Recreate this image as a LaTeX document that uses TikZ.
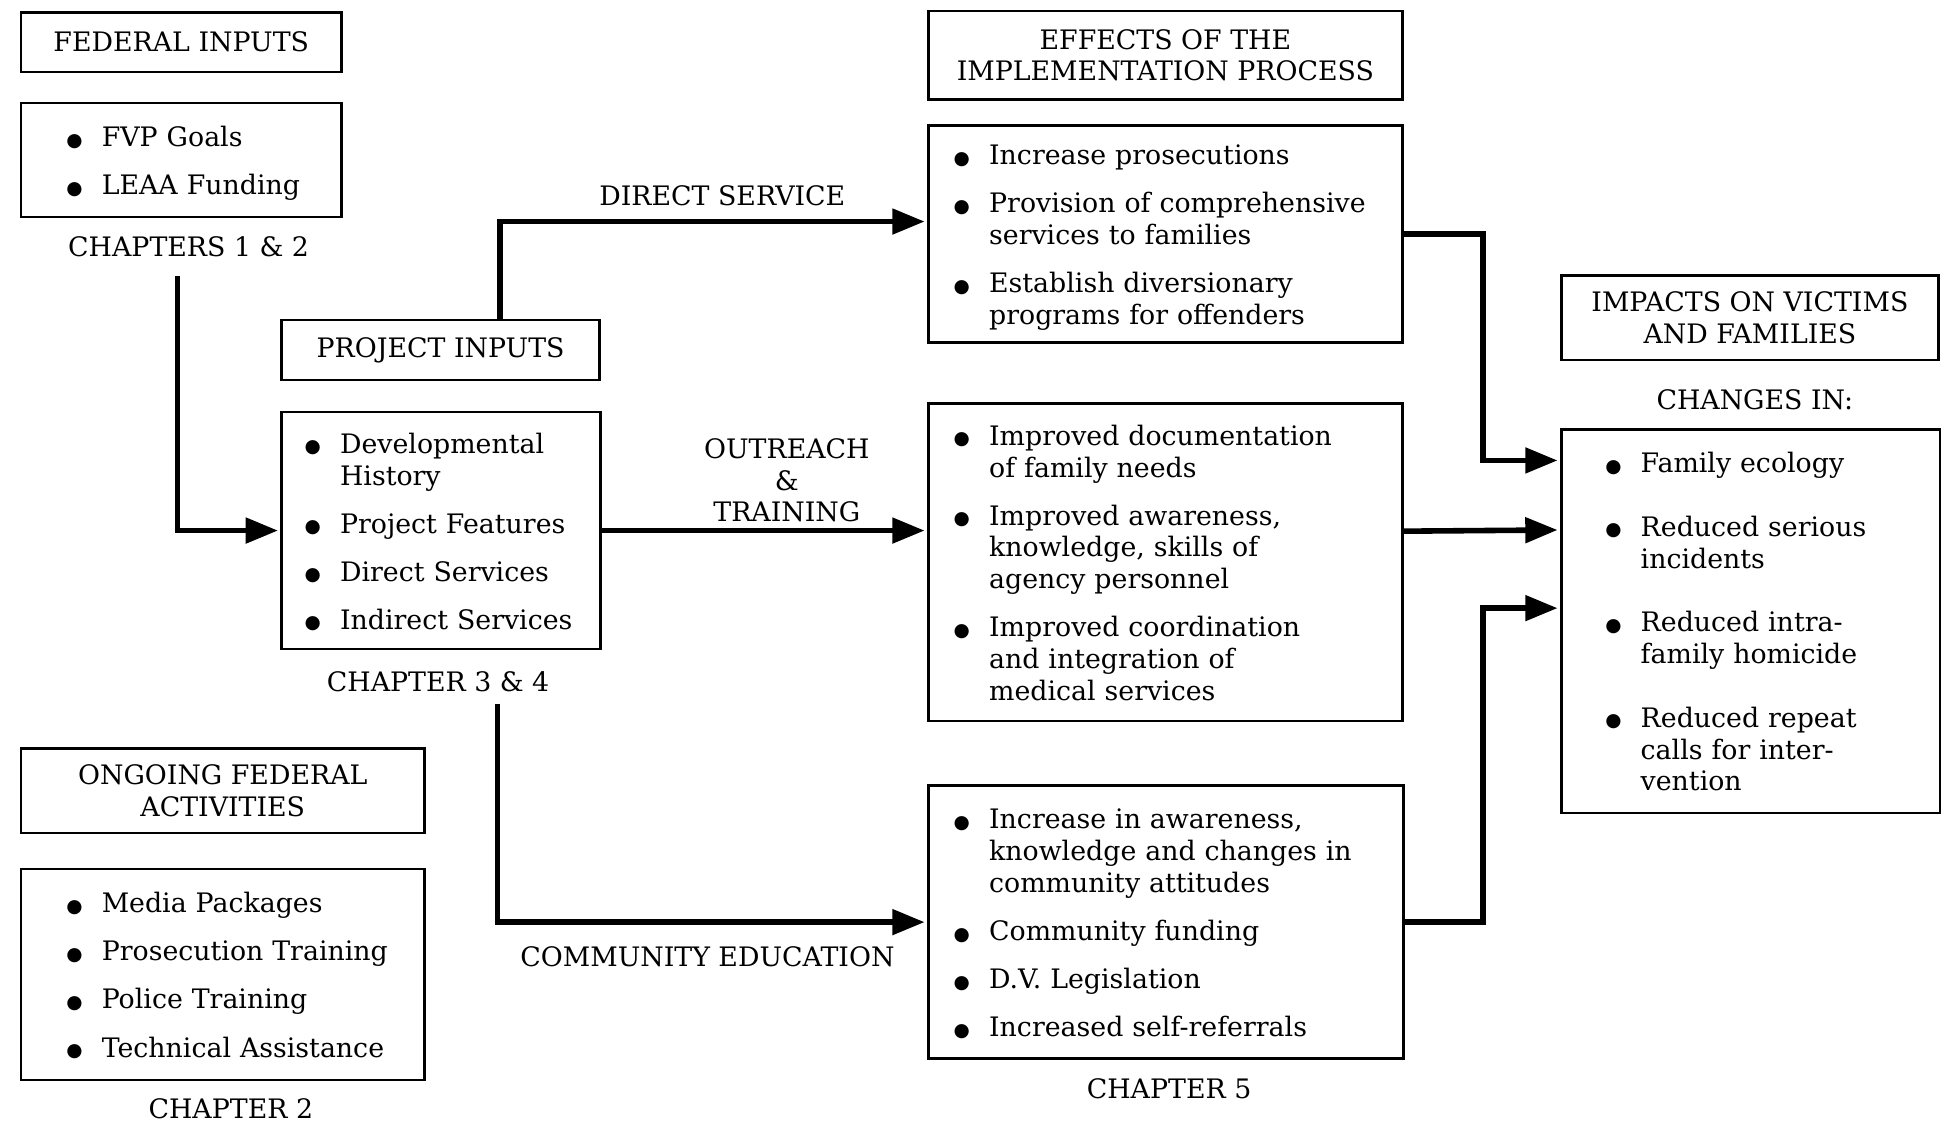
\documentclass[tikz,border=0pt]{standalone}
\usepackage{fontspec}
\setmainfont{DejaVu Serif}
\newfontfamily\dotfont{DejaVu Sans}
\usepackage{tikz}
\usetikzlibrary{arrows.meta}
\newcommand{\bl}{\makebox[10pt][c]{\raisebox{0.5pt}{\dotfont\fontsize{15}{15}\selectfont ●}} &}
\newcommand{\blist}[2]{\raisebox{0pt}[\dimexpr\height+7pt\relax]{\begin{tabular}{@{\hspace{#1}}l@{\hspace{17pt}}l@{}}#2\end{tabular}}}

\begin{document}
\begin{tikzpicture}[x=1pt,y=-1pt,
  every node/.style={font=\fontsize{21.6}{25.7}\selectfont},
  hbox/.style 2 args={draw,line width=2pt,inner sep=0pt,align=center,minimum width=#1,minimum height=#2},
  lbox/.style 2 args={draw,line width=2pt,inner sep=0pt,align=left,text width=#1,minimum height=#2},
  flow/.style={line width=4.5pt,-{Triangle[length=26pt,width=20pt]},shorten >=2pt}]
\useasboundingbox (0,0) rectangle (1568,910);
% left column
\node[hbox={258pt}{48pt}] (fedin) at (146,34) {FEDERAL INPUTS};
\node[lbox={258pt}{92pt}] (fedlist) at (146,129) {\blist{38pt}{\bl FVP Goals\\[13pt] \bl LEAA Funding}};
\node (ch12) at (152,199) {CHAPTERS 1 \& 2};
\node[hbox={325pt}{68pt}] (ongoing) at (179.5,637) {ONGOING FEDERAL\\ACTIVITIES};
\node[lbox={325pt}{170pt}] (onglist) at (179.5,785) {\blist{38pt}{\bl Media Packages\\[13pt] \bl Prosecution Training\\[13pt] \bl Police Training\\[13pt] \bl Technical Assistance}};
\node (ch2) at (186,893) {CHAPTER 2};
% project
\node[hbox={256pt}{48pt}] (projin) at (355,282) {PROJECT INPUTS};
\node[lbox={257pt}{191pt}] (projlist) at (355.5,427.5) {\blist{20pt}{\bl Developmental\\ & History\\[13pt] \bl Project Features\\[13pt] \bl Direct Services\\[13pt] \bl Indirect Services}};
\node (ch34) at (353,549) {CHAPTER 3 \& 4};
% middle labels
\node (dslab) at (582,158) {DIRECT SERVICE};
\node[align=center] (otlab) at (634,387) {OUTREACH\\\&\\TRAINING};
\node (celab) at (570,771) {COMMUNITY EDUCATION};
% effects
\node[hbox={382pt}{71pt}] (effects) at (939,44.5) {EFFECTS OF THE\\IMPLEMENTATION PROCESS};
\node[lbox={382pt}{175pt}] (direct) at (939,188.5) {\blist{22pt}{\bl Increase prosecutions\\[13pt] \bl Provision of comprehensive\\ & services to families\\[13pt] \bl Establish diversionary\\ & programs for offenders}};
\node[lbox={382pt}{256pt}] (outreach) at (939,453) {\blist{22pt}{\bl Improved documentation\\ & of family needs\\[13pt] \bl Improved awareness,\\ & knowledge, skills of\\ & agency personnel\\[13pt] \bl Improved coordination\\ & and integration of\\ & medical services}};
\node[lbox={383pt}{220pt}] (commun) at (939.5,743) {\blist{22pt}{\bl Increase in awareness,\\ & knowledge and changes in\\ & community attitudes\\[13pt] \bl Community funding\\[13pt] \bl D.V. Legislation\\[13pt] \bl Increased self-referrals}};
\node (ch5) at (942,877) {CHAPTER 5};
% impacts
\node[hbox={304pt}{68pt}] (impacts) at (1410,256) {IMPACTS ON VICTIMS\\AND FAMILIES};
\node (chin) at (1414,322) {CHANGES IN:};
\node[lbox={305pt}{309pt}] (changes) at (1410.5,500.5) {\blist{37pt}{\bl Family ecology\\[25.5pt] \bl Reduced serious\\ & incidents\\[25.5pt] \bl Reduced intra-\\ & family homicide\\[25.5pt] \bl Reduced repeat\\ & calls for inter-\\ & vention}};
% connectors
\coordinate (c12) at (143,222);
\coordinate (c34) at (401,567);
\draw[flow] (c12) |- (projlist.west);
\draw[flow] ([xshift=48pt]projin.north) |- ([yshift=10pt]direct.west);
\draw[flow] (projlist.east) -- (projlist.east -| outreach.west);
\draw[flow] (c34) |- (commun.west);
\draw[flow] (direct.east) -- ++(64,0) |- ([yshift=-26pt]changes.north west);
\draw[flow] ([yshift=25pt]outreach.east) -- ([yshift=-82pt]changes.north west);
\draw[flow] (commun.east) -- ++(63,0) |- ([yshift=-145pt]changes.north west);
\end{tikzpicture}
\end{document}
